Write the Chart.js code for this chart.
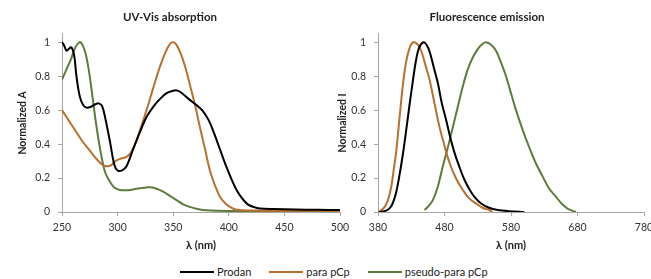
<!DOCTYPE html>
<html>
<head>
<meta charset="utf-8">
<script src="https://cdn.jsdelivr.net/npm/chart.js@4.4.1/dist/chart.umd.min.js"></script>
<style>
  body { margin: 0; width: 651px; height: 279px; overflow: hidden; background: #fff; position: relative; font-family: Lato, "Open Sans", sans-serif; }
  .box { position: absolute; top: 0; height: 258px; }
  #legend { position: absolute; left: 180px; top: 265px; display: flex; font-size: 11px; color: #222; line-height: 14px; }
  #legend span.item { display: flex; align-items: center; margin-right: 18px; }
  #legend span.sw { display: inline-block; width: 34px; height: 2px; margin-right: 3px; }
</style>
</head>
<body>
<div class="box" style="left:0;width:370px"><canvas id="uv"></canvas></div>
<div class="box" style="left:330px;width:390px"><canvas id="fl"></canvas></div>
<div id="legend"></div>

<script>
// series names and colours
var seriesNames = ['Prodan', 'para pCp', 'pseudo-para pCp'];
var seriesColors = ['#000000', '#B8702E', '#5D7B3C'];

// UV-Vis absorption
var uvProdanX = [250,252,254,256,258.5,261,263,266,269,272,276,280,283,286,289,293,297,300,304,308,314,320,326,332,338,344,350,354,358,364,370,376,382,387,392,397,402,407,412,417,422,428,440,460,480,500];
var uvProdanY = [1.0,0.98,0.95,0.96,0.97,0.92,0.80,0.68,0.63,0.615,0.62,0.635,0.64,0.625,0.55,0.42,0.28,0.245,0.245,0.27,0.37,0.47,0.56,0.62,0.665,0.70,0.715,0.715,0.70,0.665,0.635,0.60,0.54,0.46,0.37,0.28,0.20,0.13,0.08,0.045,0.03,0.02,0.017,0.015,0.013,0.012];

var uvParaX = [250,256,262,268,274,280,286,290,294,298,303,308,312,317,322,327,332,338,343,347,350,353,357,361,365,370,374,379,383,388,392,397,401,406,412,430,500];
var uvParaY = [0.60,0.54,0.48,0.42,0.37,0.32,0.28,0.27,0.275,0.30,0.315,0.325,0.35,0.42,0.52,0.62,0.73,0.855,0.94,0.99,1.0,0.985,0.93,0.85,0.75,0.62,0.50,0.36,0.245,0.15,0.09,0.05,0.03,0.015,0.01,0.008,0.006];

var uvPseudoX = [250,254,258,262,265.5,268,271,274,277,280,283,286,289,293,297,302,308,314,320,326,331,336,341,347,353,359,365,372,380,400,500];
var uvPseudoY = [0.78,0.84,0.90,0.97,1.0,0.99,0.94,0.84,0.70,0.55,0.42,0.31,0.23,0.18,0.145,0.13,0.128,0.133,0.14,0.145,0.145,0.135,0.12,0.095,0.07,0.045,0.03,0.018,0.01,0.006,0.004];

// Fluorescence emission
var flProdanX = [382,390,397,402,407,412,417,422,427,432,437,442,448.5,453,458,464,470,476,482,488,495,502,510,518,526,535,547,560,577,600];
var flProdanY = [0,0.005,0.02,0.05,0.11,0.21,0.33,0.47,0.62,0.76,0.89,0.97,1.0,0.985,0.94,0.85,0.76,0.64,0.55,0.45,0.35,0.27,0.19,0.13,0.085,0.05,0.025,0.012,0.005,0];

var flParaX = [380,385,390,395,400,404,407.5,411,415,419,422.5,427,431,435,440,445,451,457.5,465,472.5,480,487.5,497,507.5,517,527.5,537,547.5,552];
var flParaY = [0,0.01,0.03,0.07,0.15,0.26,0.36,0.50,0.66,0.80,0.89,0.96,0.995,1.0,0.985,0.95,0.87,0.78,0.64,0.50,0.39,0.29,0.20,0.13,0.08,0.05,0.025,0.012,0];

var flPseudoX = [450,456,462.5,470,477.5,485,492.5,500,507.5,515,522.5,530,537,542.5,550,557.5,565,572.5,580,587.5,597,607.5,617,627.5,637,647.5,656,665,672,677.5];
var flPseudoY = [0.012,0.035,0.07,0.15,0.27,0.38,0.50,0.62,0.74,0.84,0.91,0.96,0.99,1.0,0.985,0.95,0.88,0.80,0.70,0.60,0.49,0.38,0.29,0.21,0.14,0.09,0.05,0.02,0.008,0];

// tick labels
var yTicks = [0, 0.2, 0.4, 0.6, 0.8, 1];
var uvXTicks = [250, 300, 350, 400, 450, 500];
var flXTicks = [380, 480, 580, 680, 780];

function pts(xs, ys) {
  return xs.map(function (x, i) { return { x: x, y: ys[i] }; });
}

function makeChart(id, title, yTitle, xs, ys, xTicks, yWidth, yTitlePad, rightPad) {
  var datasets = [];
  for (var i = 0; i < 3; i++) {
    datasets.push({
      label: seriesNames[i],
      data: pts(xs[i], ys[i]),
      borderColor: seriesColors[i],
      borderWidth: 2,
      pointRadius: 0,
      fill: false,
      tension: 0.35
    });
  }
  var axisColor = '#a6a6a6';
  return new Chart(document.getElementById(id), {
    type: 'line',
    data: { datasets: datasets },
    options: {
      responsive: true,
      maintainAspectRatio: false,
      animation: false,
      layout: { padding: { left: 0, right: rightPad, top: 0, bottom: 0 } },
      plugins: {
        legend: { display: false },
        tooltip: { enabled: false },
        title: {
          display: true,
          text: title,
          color: '#222',
          font: { family: 'Lato', size: 11.5, weight: 'bold' },
          padding: { top: 10, bottom: 10 }
        }
      },
      scales: {
        x: {
          type: 'linear',
          min: xTicks[0],
          max: xTicks[xTicks.length - 1],
          afterBuildTicks: function (s) { s.ticks = xTicks.map(function (v) { return { value: v }; }); },
          afterFit: function (s) { s.height = 46; },
          grid: { drawOnChartArea: false, drawTicks: true, tickLength: 4, color: axisColor },
          border: { display: true, color: axisColor },
          ticks: { color: '#333', font: { family: 'Lato', size: 10.5 }, padding: 5, maxRotation: 0, callback: function (v) { return String(v); } },
          title: { display: true, text: 'λ (nm)', color: '#222', font: { family: 'Lato', size: 11, weight: 'bold' }, padding: { top: 0, bottom: 6 } }
        },
        y: {
          min: 0,
          max: 1.05,
          afterBuildTicks: function (s) { s.ticks = yTicks.map(function (v) { return { value: v }; }); },
          afterFit: function (s) { s.width = yWidth; },
          grid: { drawOnChartArea: false, drawTicks: true, tickLength: 4, color: axisColor },
          border: { display: true, color: axisColor },
          ticks: { color: '#333', font: { family: 'Lato', size: 10.5 }, padding: 8, callback: function (v) { return String(v); } },
          title: { display: true, text: yTitle, color: '#222', font: { family: 'Lato', size: 10.5, weight: 'bold' }, padding: { top: yTitlePad, bottom: 0 } }
        }
      }
    }
  });
}

makeChart('uv', 'UV-Vis absorption', 'Normalized A',
  [uvProdanX, uvParaX, uvPseudoX], [uvProdanY, uvParaY, uvPseudoY], uvXTicks, 62, 16.5, 30);
makeChart('fl', 'Fluorescence emission', 'Normalized I',
  [flProdanX, flParaX, flPseudoX], [flProdanY, flParaY, flPseudoY], flXTicks, 48, 6.5, 76);

// legend
var lg = document.getElementById('legend');
seriesNames.forEach(function (n, i) {
  var it = document.createElement('span');
  it.className = 'item';
  it.innerHTML = '<span class="sw" style="background:' + seriesColors[i] + '"></span>' + n;
  lg.appendChild(it);
});
</script>
</body>
</html>
